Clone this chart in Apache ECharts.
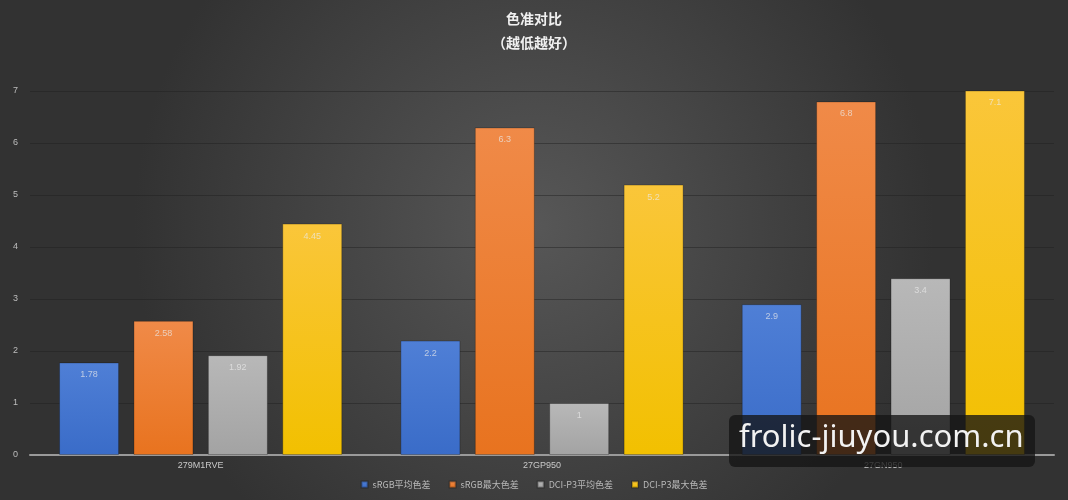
<!DOCTYPE html>
<html lang="zh-CN">
<head>
<meta charset="UTF-8">
<title>色准对比</title>
<script src="https://cdn.jsdelivr.net/npm/echarts@6.0.0/dist/echarts.min.js"></script>
<style>
    html, body { margin: 0; padding: 0; background: #3a3a3a; }
    #chart { width: 1068px; height: 500px; }
</style>
</head>
<body>
<div id="chart"></div>
<script>
    const models = ["279M1RVE", "27GP950", "27GN950"];
    const srgbAvg = [1.78, 2.2, 2.9];
    const srgbMax = [2.58, 6.3, 6.8];
    const p3Avg = [1.92, 1, 3.4];
    const p3Max = [4.45, 5.2, 7.1];
    const seriesNames = ["sRGB平均色差", "sRGB最大色差", "DCI-P3平均色差", "DCI-P3最大色差"];
    const yTicks = [0, 1, 2, 3, 4, 5, 6, 7];

    // 竖向渐变，模拟原图的柱子光泽
    function grad(top, bottom) {
        return new echarts.graphic.LinearGradient(0, 0, 0, 1, [
            { offset: 0, color: top },
            { offset: 1, color: bottom }
        ]);
    }

    const colors = [
        grad("#4f7fd6", "#3a6cc8"),
        grad("#f08a48", "#e8731f"),
        grad("#b8b8b8", "#a3a3a3"),
        grad("#fac63a", "#f2c000")
    ];
    const legendColors = ["#4472c4", "#ed7d31", "#a5a5a5", "#ffc000"];
    const dataSets = [srgbAvg, srgbMax, p3Avg, p3Max];

    const chart = echarts.init(document.getElementById("chart"));

    const option = {
        backgroundColor: new echarts.graphic.RadialGradient(0.5, 0.45, 0.8, [
            { offset: 0, color: "#575757" },
            { offset: 1, color: "#323232" }
        ]),
        color: legendColors,
        title: {
            text: "色准对比\n（越低越好）",
            left: "center",
            top: 2,
            textStyle: {
                color: "#f0f0f0",
                fontSize: 14,
                fontWeight: "bold",
                lineHeight: 24,
                fontFamily: "Noto Sans CJK SC"
            }
        },
        legend: {
            bottom: 6,
            left: "center",
            itemWidth: 6,
            itemHeight: 6,
            itemGap: 18,
            icon: "rect",
            textStyle: { color: "#b8b8b8", fontSize: 9, fontFamily: "Noto Sans CJK SC" },
            data: seriesNames
        },
        grid: { left: 30, right: 14, top: 91, bottom: 45 },
        xAxis: {
            type: "category",
            data: models,
            axisLine: { lineStyle: { color: "#9a9a9a", width: 2 } },
            axisTick: { show: false },
            axisLabel: { color: "#c8c8c8", fontSize: 9, margin: 6, fontFamily: "Liberation Sans" }
        },
        yAxis: {
            type: "value",
            min: yTicks[0],
            max: yTicks[yTicks.length - 1],
            interval: 1,
            axisLine: { show: false },
            axisTick: { show: false },
            axisLabel: { color: "#bdbdbd", fontSize: 9, margin: 12 },
            splitLine: { lineStyle: { color: "rgba(30,30,30,0.45)", width: 1 } }
        },
        series: dataSets.map((d, i) => ({
            name: seriesNames[i],
            type: "bar",
            data: d,
            barWidth: 60,
            barGap: "24%",
            barCategoryGap: "17%",
            itemStyle: {
                color: colors[i],
                borderColor: "rgba(0,0,0,0.25)",
                borderWidth: 1
            },
            label: {
                show: true,
                position: "insideTop",
                distance: 8,
                color: "rgba(235,235,235,0.7)",
                fontSize: 9
            }
        })),
        graphic: [{
            type: "group",
            right: 33,
            bottom: 33,
            z: 100,
            children: [
                {
                    type: "rect",
                    z: 100,
                    shape: { x: 0, y: 0, width: 306, height: 52, r: 6 },
                    style: { fill: "rgba(20,20,20,0.78)" }
                },
                {
                    type: "text",
                    z: 101,
                    x: 10,
                    y: 8,
                    style: {
                        text: "frolic-jiuyou.com.cn",
                        fill: "#f2f2f2",
                        fontSize: 31,
                        fontFamily: "Noto Sans"
                    }
                }
            ]
        }]
    };

    chart.setOption(option);
</script>
</body>
</html>
